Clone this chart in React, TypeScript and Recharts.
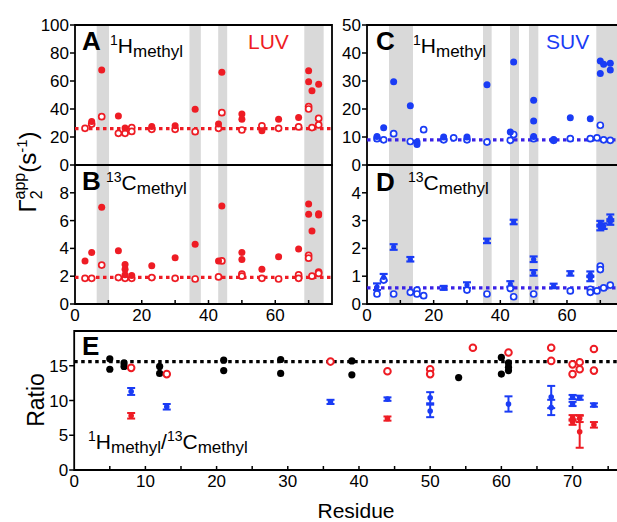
import React from 'react';
import { ScatterChart, Scatter, XAxis, YAxis, ReferenceArea, ReferenceLine, ErrorBar } from 'recharts';

const RED = '#ee1c24';
const BLUE = '#1a3cf5';
const BLUE_LINE = '#3a22e6';
const GREY = '#d9d9d9';
const FONT = 'Arial, "Liberation Sans", Helvetica, sans-serif';

type Pt = [number, number];
type ErrPt = [number, number, number];

// shaded residue ranges
const luvBands: Pt[] = [[6.5, 10.2], [34.3, 37.7], [42.9, 45.6], [68.7, 74.5]];
const suvBands: Pt[] = [[6.6, 13.8], [34.8, 37.4], [42.9, 45.6], [48.6, 51.4], [68.8, 80]];

// A: LUV 1H methyl
const luvHBound: Pt[] = [[5, 31], [8, 67.9], [13, 35], [15, 26.5], [23, 27.5], [30, 28], [36, 39.8], [43, 29.3], [44, 66.2], [50, 36.4], [50, 32.6], [56, 24.5], [61, 32.6], [67, 34], [70, 67.4], [70, 59.5], [71, 53], [73, 57.6]];
const luvHFree: Pt[] = [[3, 26.2], [5, 29.3], [8, 34.5], [13, 22.6], [15, 22.6], [17, 26.7], [17, 24], [23, 25.5], [30, 25.5], [36, 23.8], [43, 26.2], [44, 37.4], [50, 25], [56, 28], [61, 26.2], [67, 27.2], [70, 41.7], [70, 40], [71, 26.7], [73, 33.3], [73, 28.6]];

// B: LUV 13C methyl
const luvCBound: Pt[] = [[3, 3.1], [5, 3.7], [8, 6.96], [13, 3.83], [15, 2.85], [15, 2.5], [15, 2.1], [17, 2.05], [23, 2.76], [30, 3.33], [36, 4.3], [43, 3.1], [44, 7.05], [50, 3.7], [50, 3.2], [56, 2.5], [61, 3.4], [67, 3.96], [70, 7.2], [70, 6.45], [71, 5.25], [73, 6.5], [73, 6.4]];
const luvCFree: Pt[] = [[3, 1.85], [5, 1.85], [8, 2.8], [13, 1.9], [15, 1.85], [17, 1.85], [23, 1.9], [30, 1.85], [36, 1.8], [43, 1.95], [44, 3.1], [50, 2.15], [50, 2.0], [56, 1.85], [61, 1.8], [67, 2.1], [67, 1.85], [70, 3.5], [70, 3.3], [71, 2.0], [73, 2.3], [73, 2.2]];

// C: SUV 1H methyl
const suvHBound: Pt[] = [[3, 10.2], [5, 13.3], [8, 29.7], [13, 21.2], [15, 8.2], [15, 7.3], [23, 10], [30, 10], [36, 28.7], [43, 11.8], [44, 36.8], [50, 23.1], [50, 15.7], [50, 10.2], [56, 9.1], [61, 16.9], [67, 16.5], [70, 37.1], [70, 32.7], [71, 36], [73, 36.3], [73, 33.9]];
const suvHFree: Pt[] = [[3, 9.4], [5, 9.0], [8, 11.2], [13, 8.4], [17, 12.6], [23, 9.0], [26, 9.7], [30, 9.0], [36, 8.2], [43, 8.8], [44, 10.9], [50, 9.4], [56, 8.8], [61, 9.4], [67, 9.4], [69, 9.7], [70, 14.2], [71, 9.0], [73, 8.8]];

// D: SUV 13C methyl
const suvCBound: ErrPt[] = [[3, 0.62, 0.12], [5, 0.96, 0.12], [8, 2.05, 0.1], [13, 1.61, 0.08], [23, 0.58, 0.07], [30, 0.68, 0.1], [36, 2.27, 0.08], [43, 0.72, 0.1], [44, 2.95, 0.08], [50, 1.61, 0.1], [50, 1.12, 0.1], [56, 0.65, 0.08], [61, 1.1, 0.08], [67, 1.07, 0.1], [67, 0.92, 0.1], [70, 2.89, 0.1], [70, 2.75, 0.1], [71, 2.8, 0.1], [73, 3.1, 0.12], [73, 2.95, 0.1]];
const suvCFree: Pt[] = [[3, 0.36], [5, 0.86], [8, 0.36], [13, 0.42], [15, 0.5], [15, 0.36], [17, 0.3], [30, 0.5], [36, 0.36], [43, 0.56], [44, 0.26], [50, 0.36], [61, 0.47], [67, 0.53], [67, 0.42], [69, 0.47], [70, 1.36], [70, 1.24], [71, 0.58], [73, 0.68]];

// E: 1H / 13C ratio
const ratioRef: Pt[] = [[5, 16.0], [5, 14.5], [7, 15.4], [7, 14.9], [12, 14.9], [12, 13.9], [21, 15.8], [21, 14.3], [29, 15.9], [29, 13.9], [39, 15.7], [39, 13.7], [54, 13.3], [60, 16.2], [60, 13.8], [61, 15.4], [61, 14.8], [61, 14.3]];
const ratioLuvFree: Pt[] = [[8, 14.7], [13, 13.8], [36, 15.6], [44, 14.2], [50, 14.5], [50, 13.8], [56, 17.6], [61, 16.9], [67, 17.6], [67, 15.7], [70, 15.2], [70, 13.8], [71, 15.5], [71, 14.5], [73, 17.4], [73, 14.3]];
const ratioSuvBound: ErrPt[] = [[8, 11.3, 0.5], [13, 9.1, 0.4], [36, 9.8, 0.3], [44, 10.2, 0.25], [50, 10.4, 0.8], [50, 8.5, 0.9], [61, 9.5, 1.1], [67, 10.5, 1.6], [67, 9.0, 1.1], [70, 10.5, 0.3], [70, 9.5, 0.3], [71, 10.4, 0.3], [73, 9.35, 0.25]];
const ratioLuvBound: ErrPt[] = [[8, 7.8, 0.4], [44, 7.4, 0.3], [70, 7.5, 0.4], [70, 6.9, 0.4], [71, 7.4, 0.5], [71, 5.5, 2.3], [73, 6.5, 0.4]];

const rows = (pts: number[][]) => pts.map(([x, y, e]) => ({ x, y, e: e ?? 0 }));

const filled = (color: string, r = 3.5) => (p: any) => <circle cx={p.cx} cy={p.cy} r={r} fill={color} />;
const open = (color: string, r = 3, sw = 1.7) => (p: any) => (
  <circle cx={p.cx} cy={p.cy} r={r} fill="#fff" stroke={color} strokeWidth={sw} />
);

const W = 640;
const H = 522;

interface PanelProps {
  left: number;
  right: number;
  top: number;
  bottom: number;
  xDomain: [number, number];
  yDomain: [number, number];
  xTicks: number[];
  xLabels: number[];
  yTicks: number[];
  bands?: Pt[];
  refY?: number;
  refColor?: string;
  children: React.ReactNode;
}

const Panel = ({ left, right, top, bottom, xDomain, yDomain, xTicks, xLabels, yTicks, bands = [], refY, refColor, children }: PanelProps) => {
  const xTick = (p: any) => {
    const v = p.payload.value;
    return (
      <g>
        {v > xDomain[0] && <line x1={p.x} x2={p.x} y1={bottom} y2={bottom - 4} stroke="#000" strokeWidth={1.5} />}
        {xLabels.includes(v) && (
          <text x={p.x} y={bottom + 17} textAnchor="middle" fontSize={17} fontFamily={FONT} fill="#000">{v}</text>
        )}
      </g>
    );
  };
  const yTick = (p: any) => (
    <g>
      <line x1={left - 5} x2={left} y1={p.y} y2={p.y} stroke="#000" strokeWidth={1.5} />
      <text x={left - 6} y={p.y + 6} textAnchor="end" fontSize={17} fontFamily={FONT} fill="#000">{p.payload.value}</text>
    </g>
  );
  return (
    <div style={{ position: 'absolute', left: 0, top: 0 }}>
      <ScatterChart width={W} height={H} margin={{ top, bottom: H - bottom - 20, left: left - 40, right: W - right }}>
        <XAxis type="number" dataKey="x" domain={xDomain} ticks={xTicks} interval={0} tick={xTick} tickLine={false} axisLine={false} allowDataOverflow height={20} />
        <YAxis type="number" dataKey="y" domain={yDomain} ticks={yTicks} interval={0} tick={yTick} tickLine={false} axisLine={false} allowDataOverflow width={40} />
        {bands.map(([a, b], i) => (
          <ReferenceArea key={i} x1={a} x2={Math.min(b, xDomain[1])} fill={GREY} fillOpacity={1} stroke="none" ifOverflow="hidden" />
        ))}
        {refY !== undefined && <ReferenceLine y={refY} stroke={refColor} strokeWidth={3.2} strokeDasharray="3.5 3.5" />}
        {children}
        <ReferenceArea x1={xDomain[0]} x2={xDomain[1]} y1={yDomain[0]} y2={yDomain[1]} fill="none" stroke="#000" strokeWidth={1.8} />
      </ScatterChart>
    </div>
  );
};

const txt = { fontFamily: FONT, fill: '#000' };

const Label = ({ x, y, iso, el }: { x: number; y: number; iso: string; el: string }) => (
  <text x={x} y={y} {...txt} fontSize={21}>
    <tspan fontSize={14} dy={-8}>{iso}</tspan>
    <tspan dy={8}>{el}</tspan>
    <tspan fontSize={17} dy={4}>methyl</tspan>
  </text>
);

const App = () => {
  const abX = [0, 10, 20, 30, 40, 50, 60, 70];
  const abL = [0, 20, 40, 60];
  const eX = [0, 5, 10, 15, 20, 25, 30, 35, 40, 45, 50, 55, 60, 65, 70, 75];
  const eL = [0, 10, 20, 30, 40, 50, 60, 70];
  return (
    <div style={{ position: 'fixed', left: 0, top: 0, width: 617, height: 522, overflow: 'hidden', background: '#fff' }}>
      <Panel left={75} right={332} top={25} bottom={165} xDomain={[0, 77]} yDomain={[0, 100]} xTicks={[0]} xLabels={[]} yTicks={[0, 20, 40, 60, 80, 100]} bands={luvBands} refY={26} refColor={RED}>
        <Scatter data={rows(luvHFree)} shape={open(RED)} isAnimationActive={false} />
        <Scatter data={rows(luvHBound)} shape={filled(RED)} isAnimationActive={false} />
      </Panel>
      <Panel left={75} right={332} top={165} bottom={304} xDomain={[0, 77]} yDomain={[0, 10]} xTicks={abX} xLabels={abL} yTicks={[0, 2, 4, 6, 8]} bands={luvBands} refY={1.92} refColor={RED}>
        <Scatter data={rows(luvCFree)} shape={open(RED)} isAnimationActive={false} />
        <Scatter data={rows(luvCBound)} shape={filled(RED)} isAnimationActive={false} />
      </Panel>
      <Panel left={367} right={620.3} top={25} bottom={165} xDomain={[0, 76]} yDomain={[0, 50]} xTicks={[0]} xLabels={[]} yTicks={[0, 10, 20, 30, 40, 50]} bands={suvBands} refY={9} refColor={BLUE_LINE}>
        <Scatter data={rows(suvHFree)} shape={open(BLUE)} isAnimationActive={false} />
        <Scatter data={rows(suvHBound)} shape={filled(BLUE)} isAnimationActive={false} />
      </Panel>
      <Panel left={367} right={620.3} top={165} bottom={304} xDomain={[0, 76]} yDomain={[0, 5]} xTicks={abX} xLabels={abL} yTicks={[0, 1, 2, 3, 4]} bands={suvBands} refY={0.58} refColor={BLUE_LINE}>
        <Scatter data={rows(suvCFree)} shape={open(BLUE)} isAnimationActive={false} />
        <Scatter data={rows(suvCBound)} shape={filled(BLUE, 2.6)} isAnimationActive={false}>
          <ErrorBar dataKey="e" direction="y" width={4} stroke={BLUE} strokeWidth={2.2} isAnimationActive={false} />
        </Scatter>
      </Panel>
      <Panel left={74.2} right={622.4} top={331} bottom={470} xDomain={[0, 77]} yDomain={[0, 20]} xTicks={eX} xLabels={eL} yTicks={[0, 5, 10, 15]} refY={15.6} refColor="#000">
        <Scatter data={rows(ratioRef)} shape={filled('#000', 3.6)} isAnimationActive={false} />
        <Scatter data={rows(ratioLuvFree)} shape={open(RED, 3.3, 2)} isAnimationActive={false} />
        <Scatter data={rows(ratioSuvBound)} shape={filled(BLUE, 2.8)} isAnimationActive={false}>
          <ErrorBar dataKey="e" direction="y" width={4} stroke={BLUE} strokeWidth={2} isAnimationActive={false} />
        </Scatter>
        <Scatter data={rows(ratioLuvBound)} shape={filled(RED, 2.8)} isAnimationActive={false}>
          <ErrorBar dataKey="e" direction="y" width={4} stroke={RED} strokeWidth={2} isAnimationActive={false} />
        </Scatter>
      </Panel>

      <svg width={617} height={522} style={{ position: 'absolute', left: 0, top: 0, pointerEvents: 'none' }}>
        <text x={82} y={50} {...txt} fontSize={26} fontWeight="bold">A</text>
        <Label x={110} y={53} iso="1" el="H" />
        <text x={248} y={49} fontFamily={FONT} fontSize={21} fill={RED}>LUV</text>

        <text x={82} y={190} {...txt} fontSize={26} fontWeight="bold">B</text>
        <Label x={106} y={190} iso="13" el="C" />

        <text x={376} y={50} {...txt} fontSize={26} fontWeight="bold">C</text>
        <Label x={413} y={53} iso="1" el="H" />
        <text x={546} y={49} fontFamily={FONT} fontSize={21} fill={BLUE}>SUV</text>

        <text x={376} y={191} {...txt} fontSize={26} fontWeight="bold">D</text>
        <Label x={408} y={190} iso="13" el="C" />

        <text x={82} y={355} {...txt} fontSize={26} fontWeight="bold">E</text>
        <text x={88} y={449} {...txt} fontSize={21}>
          <tspan fontSize={14} dy={-8}>1</tspan>
          <tspan dy={8}>H</tspan>
          <tspan fontSize={17} dy={4}>methyl</tspan>
          <tspan dy={-4}>/</tspan>
          <tspan fontSize={14} dy={-8}>13</tspan>
          <tspan dy={8}>C</tspan>
          <tspan fontSize={17} dy={4}>methyl</tspan>
        </text>

        <text transform="translate(36,172) rotate(-90)" textAnchor="middle" {...txt} fontSize={24}>
          <tspan>Γ</tspan>
          <tspan fontSize={16} dy={6}>2</tspan>
          <tspan fontSize={16} dx={-9} dy={-17}>app</tspan>
          <tspan dy={11}>(s</tspan>
          <tspan fontSize={15} dy={-9}>-1</tspan>
          <tspan dy={9}>)</tspan>
        </text>
        <text transform="translate(44,400) rotate(-90)" textAnchor="middle" {...txt} fontSize={23}>Ratio</text>
        <text x={356} y={518} textAnchor="middle" {...txt} fontSize={21}>Residue</text>
      </svg>
    </div>
  );
};

export default App;
